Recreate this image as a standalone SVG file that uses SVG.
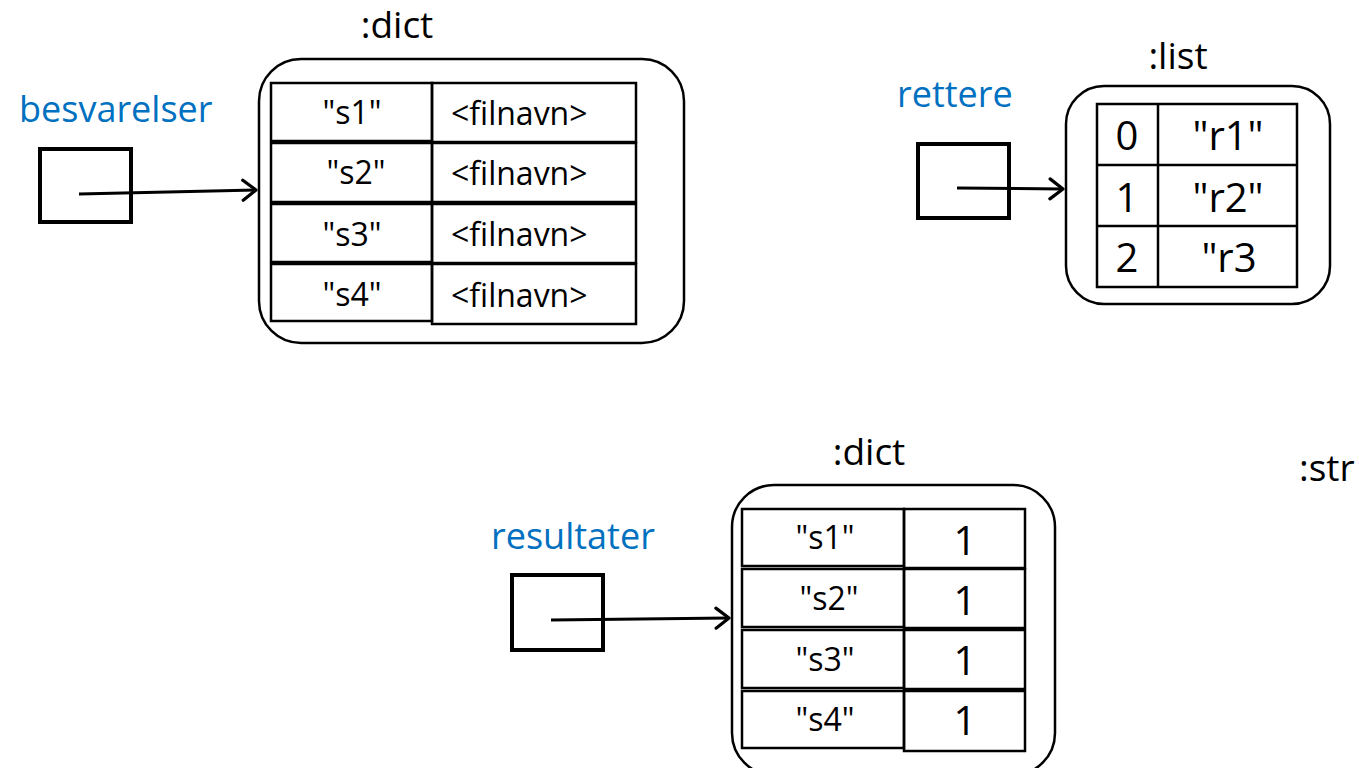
<svg xmlns="http://www.w3.org/2000/svg" width="1359" height="768" viewBox="0 0 1359 768">
<style>
.t{font-family:"Open Sans","Liberation Sans",sans-serif;fill:#000}
.v{font-family:"Open Sans","Liberation Sans",sans-serif;fill:#0070C0;font-size:36px}
.ty{font-size:37px}
.c{font-size:32px}
.big{font-size:40px}
.obj{fill:#fff;stroke:#000;stroke-width:2.5}
.cell{fill:none;stroke:#000;stroke-width:2.5}
.ref{fill:#fff;stroke:#000;stroke-width:4}
.con{stroke:#000;stroke-width:3;fill:none}
</style>
<defs>
<marker id="ah" markerWidth="20" markerHeight="24" refX="16" refY="12" orient="auto" markerUnits="userSpaceOnUse">
<path d="M3,2 L16,12 L3,22" fill="none" stroke="#000" stroke-width="3.2" stroke-linecap="round" stroke-linejoin="round"/>
</marker>
</defs>
<rect width="1359" height="768" fill="#fff"/>

<g id="besvarelser">
<text class="v" x="19" y="122">besvarelser</text>
<rect class="ref" x="40" y="149" width="91" height="73"/>
</g>
<g id="dict1">
<text class="t ty" x="397" y="38" text-anchor="middle">:dict</text>
<rect class="obj" x="259" y="59" width="425" height="284" rx="42"/>
<rect class="cell" x="271" y="83" width="161" height="58"/>
<rect class="cell" x="432" y="83" width="204" height="59"/>
<rect class="cell" x="271" y="143" width="161" height="59"/>
<rect class="cell" x="432" y="143" width="204" height="59"/>
<rect class="cell" x="271" y="204" width="161" height="58"/>
<rect class="cell" x="432" y="204" width="204" height="59"/>
<rect class="cell" x="271" y="264" width="161" height="57"/>
<rect class="cell" x="432" y="264" width="204" height="60"/>
<text class="t c" x="352" y="124" text-anchor="middle">"s1"</text>
<text class="t c" x="356" y="184" text-anchor="middle">"s2"</text>
<text class="t c" x="352" y="246" text-anchor="middle">"s3"</text>
<text class="t c" x="352" y="306" text-anchor="middle">"s4"</text>
<text class="t c" x="451" y="125">&lt;filnavn&gt;</text>
<text class="t c" x="451" y="185">&lt;filnavn&gt;</text>
<text class="t c" x="451" y="246">&lt;filnavn&gt;</text>
<text class="t c" x="451" y="307">&lt;filnavn&gt;</text>
</g>

<g id="rettere">
<text class="v" x="897" y="107">rettere</text>
<rect class="ref" x="918" y="144" width="91" height="74"/>
</g>
<g id="list">
<text class="t ty" x="1178" y="69" text-anchor="middle">:list</text>
<rect class="obj" x="1066" y="86" width="264" height="218" rx="38"/>
<rect class="cell" x="1097" y="104" width="200" height="183"/>
<line class="cell" x1="1158" y1="104" x2="1158" y2="287"/>
<line class="cell" x1="1097" y1="165" x2="1297" y2="165"/>
<line class="cell" x1="1097" y1="226" x2="1297" y2="226"/>
<text class="t big" x="1127" y="150" text-anchor="middle">0</text>
<text class="t big" x="1127" y="212" text-anchor="middle">1</text>
<text class="t big" x="1127" y="272" text-anchor="middle">2</text>
<text class="t big" x="1228" y="150" text-anchor="middle">"r1"</text>
<text class="t big" x="1228" y="212" text-anchor="middle">"r2"</text>
<text class="t big" x="1229" y="272" text-anchor="middle">"r3</text>
</g>

<g id="resultater">
<text class="v" x="491" y="549">resultater</text>
<rect class="ref" x="512" y="575" width="91" height="75"/>
</g>
<g id="dict2">
<text class="t ty" x="869" y="465" text-anchor="middle">:dict</text>
<rect class="obj" x="732" y="485" width="323" height="290" rx="42"/>
<rect class="cell" x="742" y="509" width="162" height="57"/>
<rect class="cell" x="904" y="509" width="121" height="59"/>
<rect class="cell" x="742" y="569" width="162" height="58"/>
<rect class="cell" x="904" y="569" width="121" height="59"/>
<rect class="cell" x="742" y="630" width="162" height="58"/>
<rect class="cell" x="904" y="630" width="121" height="59"/>
<rect class="cell" x="742" y="691" width="162" height="57"/>
<rect class="cell" x="904" y="691" width="121" height="60"/>
<text class="t c" x="825" y="549" text-anchor="middle">"s1"</text>
<text class="t c" x="829" y="610" text-anchor="middle">"s2"</text>
<text class="t c" x="825" y="671" text-anchor="middle">"s3"</text>
<text class="t c" x="825" y="731" text-anchor="middle">"s4"</text>
<text class="t big" x="965" y="555" text-anchor="middle">1</text>
<text class="t big" x="965" y="615" text-anchor="middle">1</text>
<text class="t big" x="965" y="675" text-anchor="middle">1</text>
<text class="t big" x="965" y="735" text-anchor="middle">1</text>
</g>

<g id="str">
<text class="t ty" x="1299" y="481">:str</text>
</g>

<g id="connectors">
<line class="con" x1="79" y1="194" x2="256" y2="190" marker-end="url(#ah)"/>
<line class="con" x1="957" y1="188" x2="1063" y2="189" marker-end="url(#ah)"/>
<line class="con" x1="551" y1="620" x2="729" y2="618" marker-end="url(#ah)"/>
</g>
</svg>
